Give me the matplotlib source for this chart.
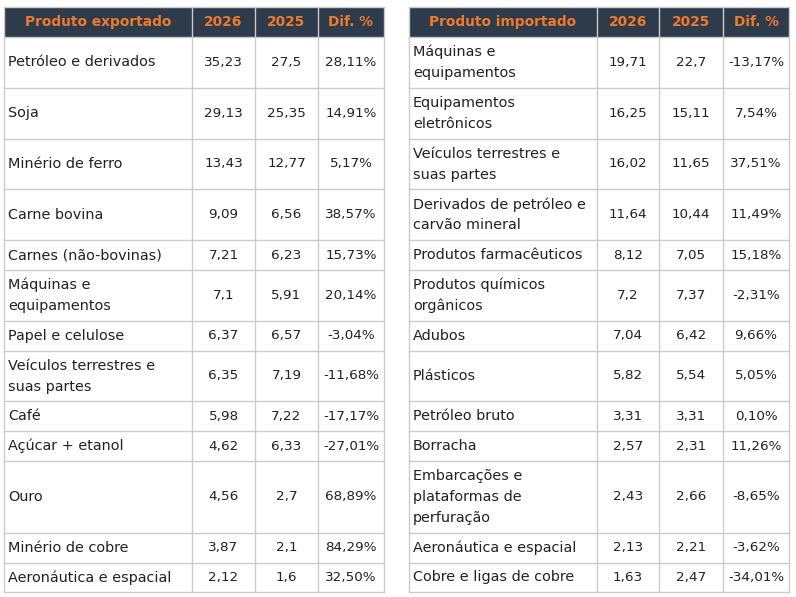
import matplotlib
matplotlib.use('Agg')
import matplotlib.pyplot as plt
from matplotlib.patches import Rectangle

# dados
exp_header = ['Produto exportado', '2026', '2025', 'Dif. %']
exp_names = ['Petróleo e derivados', 'Soja', 'Minério de ferro', 'Carne bovina',
             'Carnes (não-bovinas)', 'Máquinas e\nequipamentos', 'Papel e celulose',
             'Veículos terrestres e\nsuas partes', 'Café', 'Açúcar + etanol', 'Ouro',
             'Minério de cobre', 'Aeronáutica e espacial']
exp_2026 = ['35,23', '29,13', '13,43', '9,09', '7,21', '7,1', '6,37', '6,35', '5,98',
            '4,62', '4,56', '3,87', '2,12']
exp_2025 = ['27,5', '25,35', '12,77', '6,56', '6,23', '5,91', '6,57', '7,19', '7,22',
            '6,33', '2,7', '2,1', '1,6']
exp_dif = ['28,11%', '14,91%', '5,17%', '38,57%', '15,73%', '20,14%', '-3,04%', '-11,68%',
           '-17,17%', '-27,01%', '68,89%', '84,29%', '32,50%']

imp_header = ['Produto importado', '2026', '2025', 'Dif. %']
imp_names = ['Máquinas e\nequipamentos', 'Equipamentos\neletrônicos',
             'Veículos terrestres e\nsuas partes', 'Derivados de petróleo e\ncarvão mineral',
             'Produtos farmacêuticos', 'Produtos químicos\norgânicos', 'Adubos', 'Plásticos',
             'Petróleo bruto', 'Borracha', 'Embarcações e\nplataformas de\nperfuração',
             'Aeronáutica e espacial', 'Cobre e ligas de cobre']
imp_2026 = ['19,71', '16,25', '16,02', '11,64', '8,12', '7,2', '7,04', '5,82', '3,31',
            '2,57', '2,43', '2,13', '1,63']
imp_2025 = ['22,7', '15,11', '11,65', '10,44', '7,05', '7,37', '6,42', '5,54', '3,31',
            '2,31', '2,66', '2,21', '2,47']
imp_dif = ['-13,17%', '7,54%', '37,51%', '11,49%', '15,18%', '-2,31%', '9,66%', '5,05%',
           '0,10%', '11,26%', '-8,65%', '-3,62%', '-34,01%']

HEADER_BG = '#2e3b4a'
ORANGE = '#f07a2c'
GRID = '#cccccc'
TXT = '#222222'
FONT = 'DejaVu Sans'
FS_NAME = 10.4
FS_NUM = 9.7
FS_HEAD = 9.9
LINE = 21.0

fig = plt.figure(figsize=(7.96, 5.97), dpi=100)
ax = fig.add_axes([0, 0, 1, 1])
ax.set_xlim(0, 796)
ax.set_ylim(597, 0)
ax.axis('off')

# alturas das linhas (compartilhadas pelas duas tabelas)
nlines = [max(a.count('\n'), b.count('\n')) + 1 for a, b in zip(exp_names, imp_names)]
top = 7.0
head_h = 30.0
row_h = [8.8 + LINE * n for n in nlines]
edges = [top, top + head_h]
for h in row_h:
    edges.append(edges[-1] + h)


def draw_table(cols, header, names, v26, v25, dif):
    x0, x1 = cols[0], cols[-1]
    ax.add_patch(Rectangle((x0, edges[0]), x1 - x0, head_h, color=HEADER_BG, lw=0))
    for i, h in enumerate(header):
        xc = (cols[i] + cols[i + 1]) / 2
        ax.text(xc, edges[0] + head_h / 2, h, ha='center', va='center', color=ORANGE,
                fontsize=FS_HEAD, fontweight='bold', family=FONT)
    for r in range(len(names)):
        y0, y1 = edges[r + 1], edges[r + 2]
        yc = (y0 + y1) / 2
        lines = names[r].split('\n')
        start = yc - (len(lines) - 1) * LINE / 2
        for k, ln in enumerate(lines):
            ax.text(cols[0] + 4, start + k * LINE, ln, ha='left', va='center', color=TXT,
                    fontsize=FS_NAME, family=FONT)
        for c, vals in enumerate([v26, v25, dif]):
            xc = (cols[c + 1] + cols[c + 2]) / 2
            ax.text(xc, yc, vals[r], ha='center', va='center', color=TXT,
                    fontsize=FS_NUM, family=FONT)
    # grade
    for y in edges[1:]:
        ax.plot([x0, x1], [y, y], color=GRID, lw=1)
    ax.plot([x0, x1], [edges[0], edges[0]], color=GRID, lw=1)
    for i, x in enumerate(cols):
        ax.plot([x, x], [edges[0], edges[-1]], color=GRID, lw=1)


draw_table([4, 192, 255, 318, 384], exp_header, exp_names, exp_2026, exp_2025, exp_dif)
draw_table([409, 597, 659, 723, 789], imp_header, imp_names, imp_2026, imp_2025, imp_dif)

fig.savefig('out.png', dpi=100, facecolor='white')
